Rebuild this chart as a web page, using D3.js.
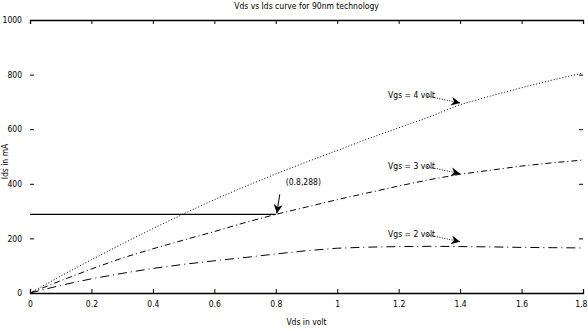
<!DOCTYPE html>
<html>
<head>
<meta charset="utf-8">
<script src="https://cdn.jsdelivr.net/npm/d3@7"></script>
<style>
  body { margin: 0; background: #fff; }
  text { font-family: "Liberation Sans Narrow", "DejaVu Sans Condensed", "Liberation Sans", sans-serif; font-size: 8.5px; fill: #000; }
</style>
</head>
<body>
<div id="wrapper"></div>
<script>
// Vds sweep (volt)
const vds = [0, 0.1, 0.2, 0.3, 0.4, 0.5, 0.6, 0.7, 0.8, 0.9, 1.0, 1.1, 1.2, 1.3, 1.4, 1.5, 1.6, 1.7, 1.8]
// Ids (mA) per gate voltage
const idsVgs4 = [0, 62, 122, 180, 236, 290, 342, 390, 436, 480, 522, 565, 605, 645, 690, 722, 752, 780, 806]
const idsVgs3 = [0, 45, 88, 128, 162, 194, 225, 258, 288, 315, 342, 367, 392, 415, 435, 450, 465, 477, 487]
const idsVgs2 = [0, 28, 52, 72, 90, 105, 118, 130, 143, 155, 164, 168, 170, 171, 170, 169, 167, 166, 165]

const xTicks = [0, 0.2, 0.4, 0.6, 0.8, 1, 1.2, 1.4, 1.6, 1.8]
const yTicks = [0, 200, 400, 600, 800, 1000]

// marked point and curve labels
const marker = { x: 0.8, y: 288, label: "(0.8,288)" }
const curveLabels = [
  { text: "Vgs = 4 volt", x: 1.4, y: 696 },
  { text: "Vgs = 3 volt", x: 1.4, y: 437 },
  { text: "Vgs = 2 volt", x: 1.4, y: 188 },
]

const dimensions = {
  width: 588,
  height: 331,
  margin: { top: 20, right: 5, bottom: 38, left: 30 },
}
dimensions.boundedWidth = dimensions.width - dimensions.margin.left - dimensions.margin.right
dimensions.boundedHeight = dimensions.height - dimensions.margin.top - dimensions.margin.bottom

const wrapper = d3.select("#wrapper")
  .append("svg")
  .attr("width", dimensions.width)
  .attr("height", dimensions.height)

wrapper.append("defs").append("marker")
  .attr("id", "arrow")
  .attr("viewBox", "0 0 10 10")
  .attr("refX", 10)
  .attr("refY", 5)
  .attr("markerWidth", 9)
  .attr("markerHeight", 9)
  .attr("markerUnits", "userSpaceOnUse")
  .attr("orient", "auto")
  .append("path")
  .attr("d", "M0,0 L10,5 L0,10 L3,5 Z")
  .attr("fill", "#000")

const bounds = wrapper.append("g")
  .attr("transform", `translate(${dimensions.margin.left},${dimensions.margin.top})`)

const xScale = d3.scaleLinear()
  .domain([0, 1.8])
  .range([0, dimensions.boundedWidth])

const yScale = d3.scaleLinear()
  .domain([0, 1000])
  .range([dimensions.boundedHeight, 0])

// axes (ticks point inward, like the matlab box)
const xAxis = bounds.append("g")
  .attr("transform", `translate(0,${dimensions.boundedHeight})`)
  .call(d3.axisBottom(xScale).tickValues(xTicks).tickSize(-4).tickPadding(8).tickFormat(d3.format("")))
const xTop = bounds.append("g")
  .call(d3.axisTop(xScale).tickValues(xTicks).tickSize(-4).tickFormat(""))
const yAxis = bounds.append("g")
  .call(d3.axisLeft(yScale).tickValues(yTicks).tickSize(-4).tickPadding(8).tickFormat(d3.format("d")))
const yRight = bounds.append("g")
  .attr("transform", `translate(${dimensions.boundedWidth},0)`)
  .call(d3.axisRight(yScale).tickValues(yTicks).tickSize(-4).tickFormat(""))

;[xAxis, xTop, yAxis, yRight].forEach(a => {
  a.selectAll("text").attr("font-family", null).attr("font-size", null)
  a.selectAll("line").attr("stroke", "#000")
})
xAxis.select(".domain").attr("stroke", "#000").attr("stroke-width", 1.3)
xTop.select(".domain").attr("stroke", "#000").attr("stroke-width", 1.3)
yAxis.select(".domain").remove()
yRight.select(".domain").remove()

// last x label sits at the window edge, keep it inside
xAxis.selectAll(".tick text")
  .filter(d => d === 1.8)
  .attr("text-anchor", "end")
  .attr("dx", 4)

// curves
const lineGenerator = (ys) => d3.line()
  .x((d, i) => xScale(vds[i]))
  .y(d => yScale(d))(ys)

const series = [
  { values: idsVgs4, dash: "1,2" },
  { values: idsVgs3, dash: "6,3,1,3" },
  { values: idsVgs2, dash: "9,4,1,4" },
]
series.forEach(s => {
  bounds.append("path")
    .attr("d", lineGenerator(s.values))
    .attr("fill", "none")
    .attr("stroke", "#000")
    .attr("stroke-width", 1)
    .attr("stroke-dasharray", s.dash)
})

// horizontal guide to the marked point
bounds.append("line")
  .attr("x1", xScale(0))
  .attr("x2", xScale(marker.x))
  .attr("y1", yScale(marker.y))
  .attr("y2", yScale(marker.y))
  .attr("stroke", "#000")
  .attr("stroke-width", 1.2)

bounds.append("text")
  .attr("x", xScale(marker.x) + 10)
  .attr("y", yScale(marker.y) - 29)
  .text(marker.label)

bounds.append("line")
  .attr("x1", xScale(marker.x) + 4)
  .attr("y1", yScale(marker.y) - 20)
  .attr("x2", xScale(marker.x) + 1)
  .attr("y2", yScale(marker.y) - 1)
  .attr("stroke", "#000")
  .attr("marker-end", "url(#arrow)")

// curve labels with dotted arrows
curveLabels.forEach(c => {
  const tipX = xScale(c.x)
  const tipY = yScale(c.y)
  bounds.append("text")
    .attr("x", tipX - 72)
    .attr("y", tipY - 5)
    .text(c.text)
  bounds.append("line")
    .attr("x1", tipX - 33)
    .attr("y1", tipY - 7)
    .attr("x2", tipX)
    .attr("y2", tipY)
    .attr("stroke", "#000")
    .attr("stroke-dasharray", "1,1.5")
    .attr("marker-end", "url(#arrow)")
})

// title and axis labels
wrapper.append("text")
  .attr("x", dimensions.margin.left + dimensions.boundedWidth / 2)
  .attr("y", 9)
  .attr("text-anchor", "middle")
  .text("Vds vs Ids curve for 90nm technology")

wrapper.append("text")
  .attr("x", dimensions.margin.left + dimensions.boundedWidth / 2)
  .attr("y", 325)
  .attr("text-anchor", "middle")
  .text("Vds in volt")

wrapper.append("text")
  .attr("transform", `translate(8,${dimensions.margin.top + dimensions.boundedHeight / 2 + 5}) rotate(-90)`)
  .attr("text-anchor", "middle")
  .text("Ids in mA")
</script>
</body>
</html>
